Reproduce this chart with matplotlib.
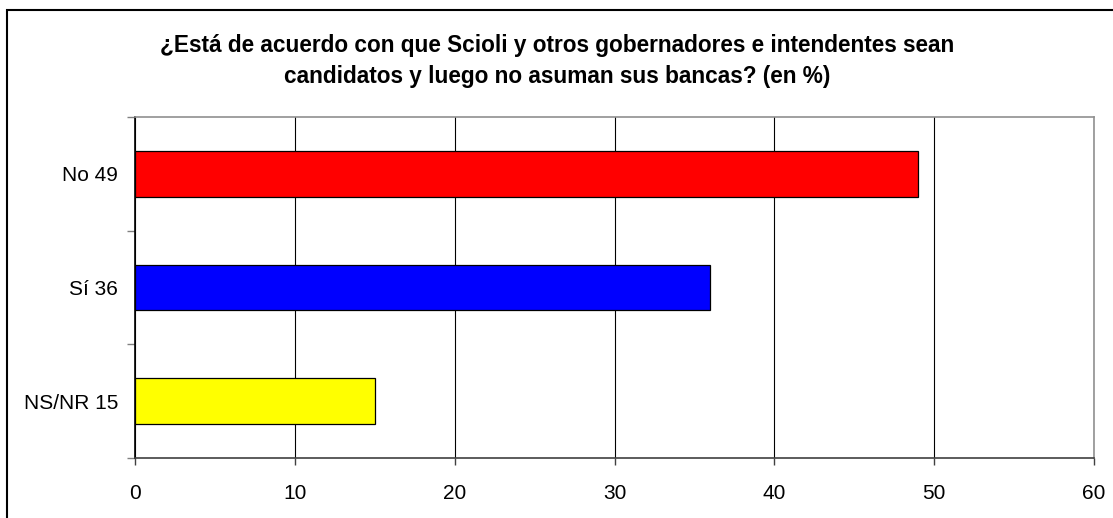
import matplotlib.pyplot as plt
from matplotlib.patches import Rectangle

plt.rcParams['font.family'] = ['Liberation Sans', 'DejaVu Sans']

# Data
categories = ['NS/NR 15', 'Sí 36', 'No 49']
values = [15, 36, 49]
colors = ['#FFFF00', '#0000FF', '#FF0000']
title = ('¿Está de acuerdo con que Scioli y otros gobernadores e intendentes sean\n'
         'candidatos y luego no asuman sus bancas? (en %)')

W, H = 1113, 518
fig = plt.figure(figsize=(W / 100, H / 100), dpi=100)

# outer frame (right and bottom edges are cut off)
fig.patches.append(Rectangle((7 / W, -0.05), 1.1, 1 - 10 / H + 0.05,
                             transform=fig.transFigure, fill=False,
                             edgecolor='black', linewidth=1.5))

ax = fig.add_axes([135 / W, 1 - 458 / H, (1094 - 135) / W, (458 - 117) / H])

pos = list(range(len(categories)))
ax.barh(pos, values, height=0.4, color=colors, edgecolor='black', linewidth=0.9, zorder=3)

ax.set_xlim(0, 60)
ax.set_ylim(-0.5, 2.5)
ax.set_xticks(range(0, 61, 10))
ax.grid(axis='x', color='black', linewidth=0.8, zorder=0)

ax.set_yticks([-0.5, 0.5, 1.5, 2.5])
ax.set_yticklabels([])
ax.set_yticks(pos, minor=True)
ax.set_yticklabels(categories, minor=True)
ax.tick_params(axis='y', which='minor', length=0, pad=12, labelsize=15)
ax.tick_params(axis='y', which='major', length=6, color='#808080', width=1)
ax.tick_params(axis='x', length=5, width=1, color='#404040', labelsize=15, pad=14)

ax.spines['left'].set_color('black')
ax.spines['bottom'].set_color('#404040')
ax.spines['top'].set_color('#909090')
ax.spines['right'].set_color('#909090')
for s in ax.spines.values():
    s.set_linewidth(1.2)

fig.text(0.5 + 1 / W, 1 - 61 / H, title, ha='center', va='center',
         fontsize=16.3, fontweight='bold', linespacing=1.45)

fig.savefig('out.png', dpi=100)
